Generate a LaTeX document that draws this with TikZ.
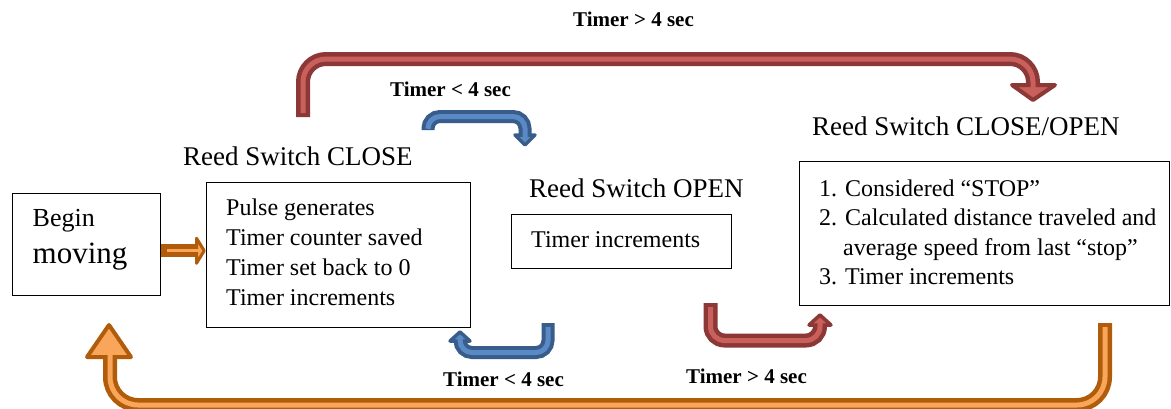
\documentclass[tikz,border=0pt]{standalone}
\usepackage{fontspec}
\setmainfont{Liberation Serif}
\definecolor{redD}{HTML}{8C3836}
\definecolor{redL}{HTML}{C9605B}
\definecolor{blueD}{HTML}{385D8A}
\definecolor{blueL}{HTML}{5A8AC6}
\definecolor{orD}{HTML}{B05C0A}
\definecolor{orL}{HTML}{F9A65A}
\tikzset{
  box/.style={draw=black, line width=1.1pt, anchor=north west, inner sep=0pt},
  txt/.style={anchor=base west, inner sep=0pt, font=\fontsize{24}{28}\selectfont},
  ttl/.style={anchor=base west, inner sep=0pt, font=\fontsize{27}{30}\selectfont},
  lbl/.style={anchor=base west, inner sep=0pt, font=\bfseries\fontsize{21}{24}\selectfont},
  shaftdark/.style={draw=#1, line width=14pt, line cap=butt},
  shaftlight/.style={draw=#1, line width=5pt, line cap=butt, shorten <=4pt},
  headshape/.style 2 args={fill=#2, draw=#1, line width=4pt, line join=round},
}
\begin{document}
\begin{tikzpicture}[x=1pt,y=-1pt]
\useasboundingbox (0,0) rectangle (1171,408);
\fill[white] (0,0) rectangle (1171,408);

% boxes
\node[box, minimum width=148.5pt, minimum height=102pt] (begin) at (11.5,193) {};
\node[box, minimum width=264.5pt, minimum height=145pt] (close) at (205.5,182) {};
\node[box, minimum width=220pt, minimum height=54pt] (open) at (511,214) {};
\node[box, minimum width=370pt, minimum height=144pt] (co) at (799,161) {};

% texts
\node[txt, font=\fontsize{26}{30}\selectfont] (tbegin) at (32.5,226.7) {Begin};
\node[txt, font=\fontsize{31}{34}\selectfont] (tmoving) at (32.5,263) {moving};

\node[ttl] (tclose) at (183,165) {Reed Switch CLOSE};
\node[txt] (c1) at (226,215) {Pulse generates};
\node[txt] (c2) at (226,245) {Timer counter saved};
\node[txt] (c3) at (226,275) {Timer set back to 0};
\node[txt] (c4) at (226,305) {Timer increments};

\node[ttl] (topen) at (529,197) {Reed Switch OPEN};
\node[txt] (o1) at (531,247) {Timer increments};

\node[ttl] (tco) at (812,135) {Reed Switch CLOSE/OPEN};
\node[txt] (s1) at (819,196) {1. Considered “STOP”};
\node[txt] (s2) at (819,225.5) {2. Calculated distance traveled and};
\node[txt] (s3) at (843,255) {average speed from last “stop”};
\node[txt] (s4) at (819,284.5) {3. Timer increments};

% labels
\node[lbl] (l1) at (573,26.7) {Timer > 4 sec};
\node[lbl] (l2) at (390,96.7) {Timer < 4 sec};
\node[lbl] (l3) at (443,386) {Timer < 4 sec};
\node[lbl] (l4) at (686,383.5) {Timer > 4 sec};

% big red arrow
\coordinate (ra) at (303,117);
\coordinate (rb) at (303,59);
\coordinate (rc) at (1033,59);
\coordinate (rd) at (1033,92);
\draw[shaftdark=redD, rounded corners=23pt] (ra) -- (rb) -- (rc) -- (rd);
\filldraw[headshape={redD}{redL}] (1012,85) -- (1055,85) -- (1033,100) -- cycle;
\draw[shaftlight=redL, rounded corners=23pt] (ra) -- (rb) -- (rc) -- (rd);

% blue top arrow
\coordinate (ba) at (428,130);
\coordinate (bb) at (428,116.5);
\coordinate (bc) at (525,116.5);
\coordinate (bd) at (525,140);
\draw[shaftdark=blueD, line width=13pt, rounded corners=12pt] (ba) -- (bb) -- (bc) -- (bd);
\filldraw[headshape={blueD}{blueL}, line width=3.5pt] (515,135) -- (535,135) -- (525,145) -- cycle;
\draw[shaftlight=blueL, rounded corners=12pt] (ba) -- (bb) -- (bc) -- (bd);

% blue bottom arrow
\coordinate (qa) at (548,323);
\coordinate (qb) at (548,352.5);
\coordinate (qc) at (460,352.5);
\coordinate (qd) at (460,336);
\draw[shaftdark=blueD, line width=13pt, rounded corners=12pt] (qa) -- (qb) -- (qc) -- (qd);
\filldraw[headshape={blueD}{blueL}, line width=3.5pt] (450,341) -- (470,341) -- (460,332) -- cycle;
\draw[shaftlight=blueL, rounded corners=12pt] (qa) -- (qb) -- (qc) -- (qd);

% red bottom arrow
\coordinate (pa) at (710.5,303);
\coordinate (pb) at (710.5,340.5);
\coordinate (pc) at (820,340.5);
\coordinate (pd) at (820,320);
\draw[shaftdark=redD, rounded corners=14pt] (pa) -- (pb) -- (pc) -- (pd);
\filldraw[headshape={redD}{redL}, line width=3.5pt] (809,325) -- (831,325) -- (820,315) -- cycle;
\draw[shaftlight=redL, rounded corners=14pt] (pa) -- (pb) -- (pc) -- (pd);

% orange long arrow
\coordinate (oa) at (1105,323);
\coordinate (ob) at (1105,405);
\coordinate (oc) at (110,405);
\coordinate (od) at (110,349);
\draw[shaftdark=orD, rounded corners=28pt] (oa) -- (ob) -- (oc) -- (od);
\filldraw[headshape={orD}{orL}] (87,357) -- (131,357) -- (109,325) -- cycle;
\draw[shaftlight=orL, rounded corners=28pt] (oa) -- (ob) -- (oc) -- (od);

% orange short arrow
\coordinate (sa) at (161,250.5);
\coordinate (sb) at (200,250.5);
\draw[shaftdark=orD, line width=12.5pt] (sa) -- (sb);
\filldraw[headshape={orD}{orL}, line width=3pt] (196.5,238.2) -- (196.5,263.3) -- (204.2,250.7) -- cycle;
\draw[shaftlight=orL, line width=3pt, shorten <=6pt] (sa) -- (sb);
\end{tikzpicture}
\end{document}
